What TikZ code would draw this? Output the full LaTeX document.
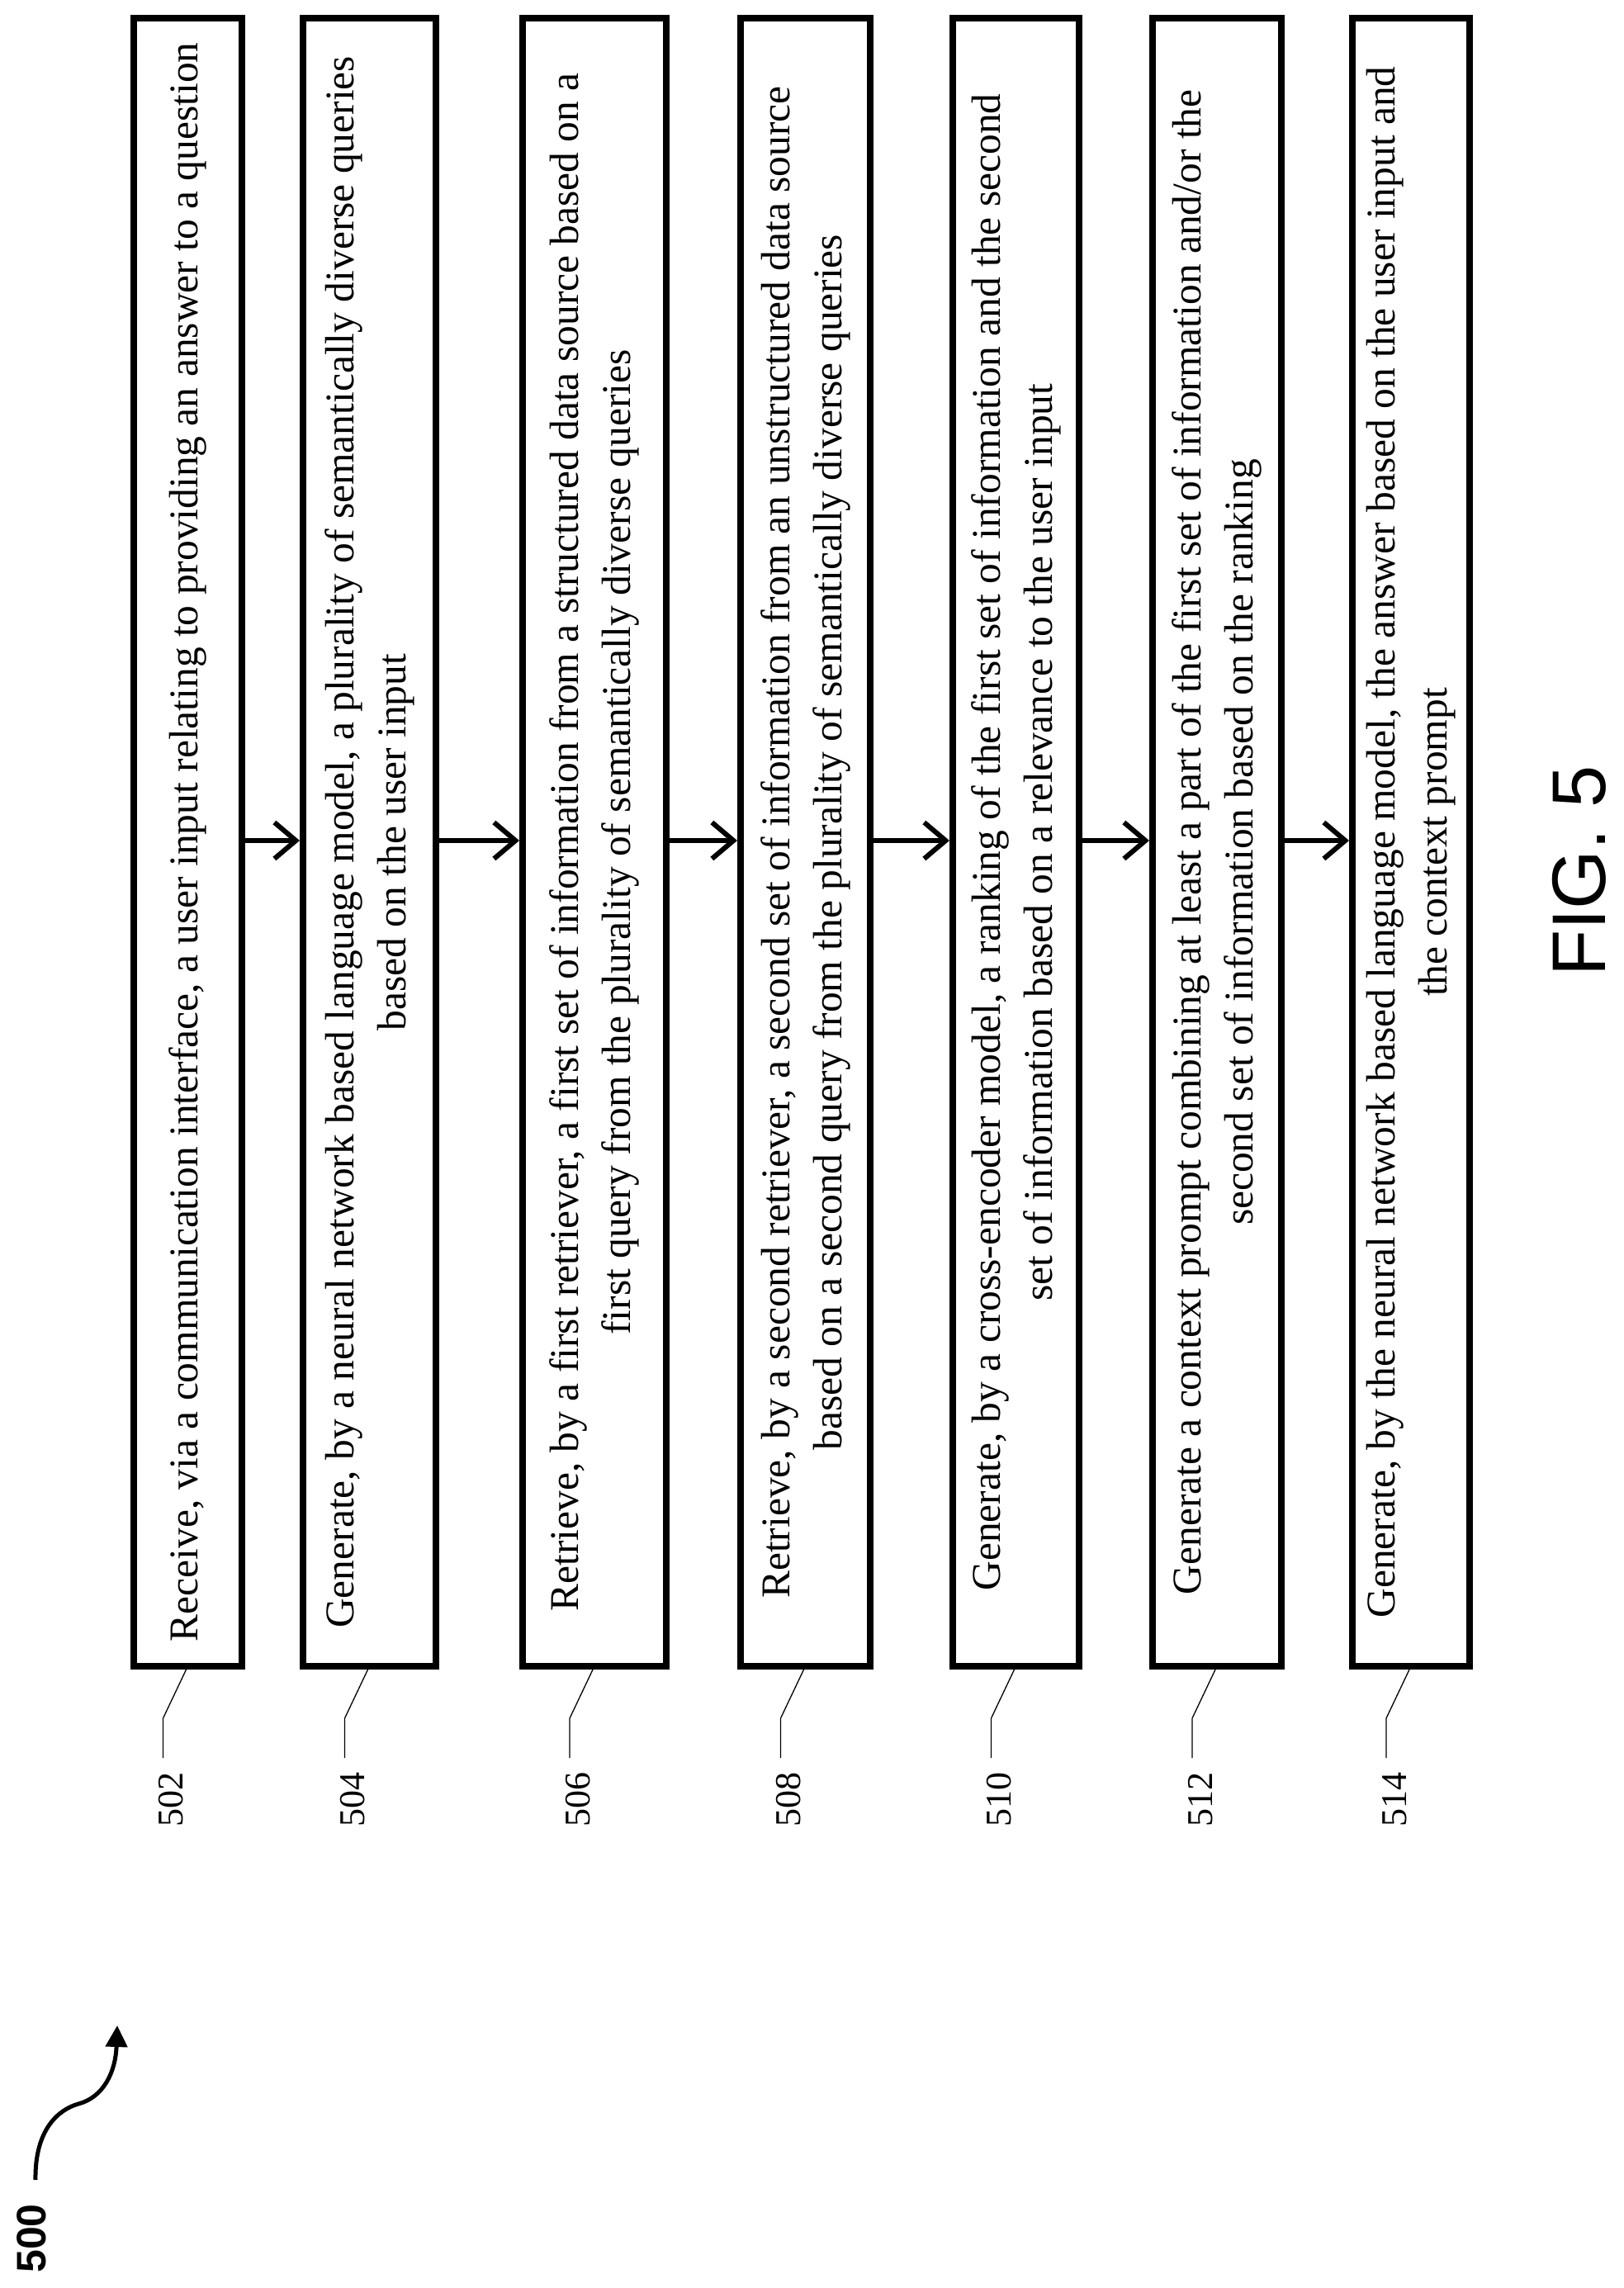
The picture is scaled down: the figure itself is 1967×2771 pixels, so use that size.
\documentclass[tikz,border=0pt]{standalone}
\usepackage{fontspec}
\setmainfont{Liberation Serif}
\newfontfamily\figfont{Liberation Sans}
\usetikzlibrary{arrows.meta,calc}
\begin{document}
\begin{tikzpicture}[x=1pt,y=-1pt,
  stepbox/.style={draw,line width=8pt,rotate=90,minimum width=1996pt,inner sep=0pt,
    align=center,font=\fontsize{49.5}{63}\selectfont},
  arr/.style={line width=6pt,-{Straight Barb[length=26pt,width=44pt,line width=6pt]}},
  lead/.style={line width=1.3pt},
  reflab/.style={rotate=90,font=\fontsize{44}{50}\selectfont}]
\path[fill=white] (0,0) rectangle (1967,2771);
\useasboundingbox (0,0) rectangle (1967,2771);
\node[stepbox,minimum height=131pt] (b1) at (227.5,1020) {Receive, via a communication interface, a user input relating to providing an answer to a question};
\node[stepbox,minimum height=161pt] (b2) at (447.5,1020) {Generate, by a neural network based language model, a plurality of semantically diverse queries\\based on the user input};
\node[stepbox,minimum height=174pt] (b3) at (720,1020) {Retrieve, by a first retriever, a first set of information from a structured data source based on a\\first query from the plurality of semantically diverse queries};
\node[stepbox,minimum height=157pt] (b4) at (975.5,1020) {Retrieve, by a second retriever, a second set of information from an unstructured data source\\based on a second query from the plurality of semantically diverse queries};
\node[stepbox,minimum height=153pt] (b5) at (1230.5,1020) {Generate, by a cross-encoder model, a ranking of the first set of information and the second\\set of information based on a relevance to the user input};
\node[stepbox,minimum height=156pt] (b6) at (1474,1020) {Generate a context prompt combining at least a part of the first set of information and/or the\\second set of information based on the ranking};
\node[stepbox,minimum height=142pt] (b7) at (1709,1020) {Generate, by the neural network based language model, the answer based on the user input and\\the context prompt};
\foreach \a/\b in {b1/b2,b2/b3,b3/b4,b4/b5,b5/b6,b6/b7}{
  \draw[arr] ($(\a.south)+(0,-2)$) -- ($(\b.north)+(0,-2)$);
}
\foreach \b/\n in {b1/502,b2/504,b3/506,b4/508,b5/510,b6/512,b7/514}{
  \coordinate (k\b) at ($(\b.west)+(-30,59)$);
  \coordinate (e\b) at ($(\b.west)+(-30,107)$);
  \node[reflab] (l\b) at ($(\b.west)+(-20,157)$) {\n};
  \draw[lead] ($(\b.west)+(-2,0)$) -- (k\b) -- (e\b);
}
\node[rotate=90,font=\figfont\fontsize{92}{92}\selectfont] (fig) at (1913,1055) {FIG. 5};
\node[rotate=90,font=\figfont\bfseries\fontsize{50}{50}\selectfont] (n500) at (38,2711) {500};
\coordinate (cs) at (43,2640);
\coordinate (ct) at (142,2453);
\draw[line width=5pt,-{Triangle[length=26pt,width=26pt]}] (cs) .. controls (42,2580) and (70,2555) .. (95,2548) .. controls (125,2540) and (140,2510) .. (ct);
\end{tikzpicture}
\end{document}
